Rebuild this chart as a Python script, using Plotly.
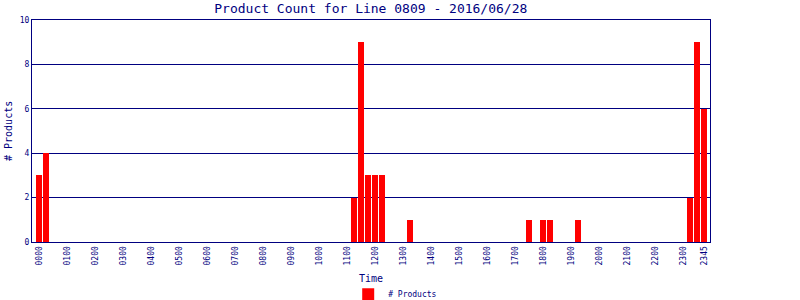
import plotly.graph_objects as go

# 15-minute time slots
times = [f"{h:02d}{m:02d}" for h in range(24) for m in (0, 15, 30, 45)]

# non-zero product counts
nonzero = {
    "0000": 3, "0015": 4,
    "1115": 2, "1130": 9, "1145": 3, "1200": 3, "1215": 3,
    "1315": 1,
    "1730": 1, "1800": 1, "1815": 1, "1915": 1,
    "2315": 2, "2330": 9, "2345": 6,
}
counts = [nonzero.get(t, 0) for t in times]

tick_labels = [f"{h:02d}00" for h in range(24)] + ["2345"]

title = "Product Count for Line 0809 - 2016/06/28"
x_title = "Time"
y_title = "# Products"
navy = "#000080"
font = "DejaVu Sans Mono"

fig = go.Figure()
fig.add_trace(go.Bar(
    x=times, y=counts, name="# Products",
    marker=dict(color="#FF0000", line=dict(width=0)),
    width=0.857,
))

fig.update_layout(
    width=800, height=300,
    margin=dict(l=32, r=90, t=20, b=58, autoexpand=False),
    paper_bgcolor="white", plot_bgcolor="white",
    title=dict(text=title, x=0.4635, xanchor="center", y=0.973, yanchor="middle",
               font=dict(family=font, size=13, color=navy)),
    showlegend=True,
    legend=dict(orientation="h", xref="container", yref="paper",
                x=0.494, xanchor="center", y=-0.235, yanchor="middle",
                font=dict(family=font, size=8, color=navy),
                itemwidth=30, bgcolor="rgba(0,0,0,0)"),
    bargap=0,
    annotations=[
        dict(text=x_title, xref="paper", yref="paper", x=0.5, y=-0.165,
             xanchor="center", yanchor="middle", showarrow=False,
             font=dict(family=font, size=10, color=navy)),
        dict(text=y_title, xref="paper", yref="paper", x=-0.0354, y=0.5,
             xanchor="center", yanchor="middle", showarrow=False, textangle=-90,
             font=dict(family=font, size=10, color=navy)),
    ],
)
fig.update_xaxes(
    type="category", categoryorder="array", categoryarray=times,
    range=[-1.07, 95.86],
    tickmode="array", tickvals=tick_labels, ticktext=tick_labels,
    tickangle=-90, tickfont=dict(family=font, size=8, color=navy),
    showgrid=False, showline=True, linecolor=navy, linewidth=1, mirror=True,
    ticks="", ticklen=0, automargin=False,
    fixedrange=True,
)
fig.update_yaxes(
    range=[0, 10], tickvals=[0, 2, 4, 6, 8, 10],
    tickfont=dict(family=font, size=8, color=navy),
    showgrid=True, gridcolor=navy, gridwidth=1,
    showline=True, linecolor=navy, linewidth=1, mirror=True,
    zeroline=False, ticks="", automargin=False,
    fixedrange=True,
)

fig.write_html("out.html", config={"displayModeBar": False})
